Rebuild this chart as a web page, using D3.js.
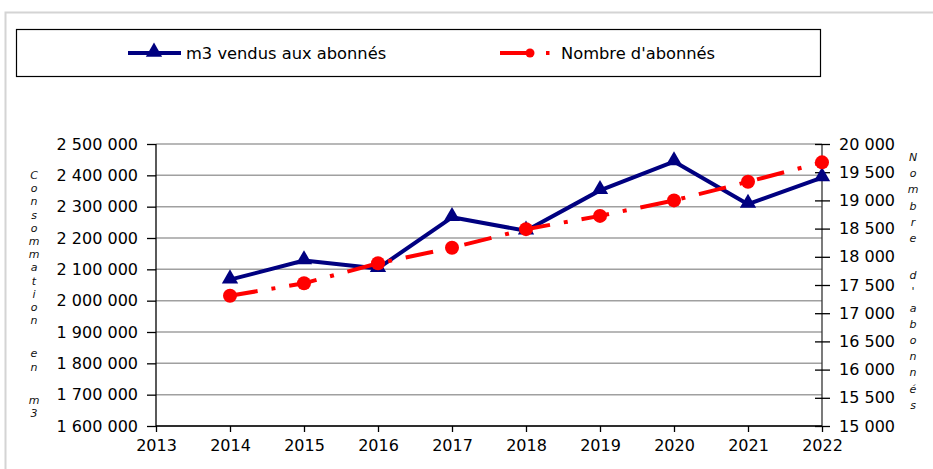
<!DOCTYPE html>
<html>
<head>
<meta charset="utf-8">
<script src="https://cdn.jsdelivr.net/npm/d3@7"></script>
<style>
  body { margin: 0; background: #fff; }
  svg { display: block; font-family: "DejaVu Sans", Verdana, sans-serif; }
</style>
</head>
<body>
<div class="canvas"></div>
<script>
// data
const years = [2014, 2015, 2016, 2017, 2018, 2019, 2020, 2021, 2022];
const m3Vendus = [2067000, 2128000, 2103000, 2266000, 2223000, 2352000, 2444000, 2308000, 2393000];
const abonnes = [17310, 17530, 17885, 18160, 18490, 18725, 19000, 19330, 19675];
const leftTicks = [1600000, 1700000, 1800000, 1900000, 2000000, 2100000, 2200000, 2300000, 2400000, 2500000];
const rightTicks = [15000, 15500, 16000, 16500, 17000, 17500, 18000, 18500, 19000, 19500, 20000];
const xTicks = [2013, 2014, 2015, 2016, 2017, 2018, 2019, 2020, 2021, 2022];

const W = 933, H = 469;
const svg = d3.select('.canvas')
    .append('svg')
    .attr('width', W)
    .attr('height', H);

// outer chart frame
svg.append('rect')
    .attr('x', 5.5).attr('y', 12.5)
    .attr('width', W).attr('height', H)
    .attr('fill', 'none')
    .attr('stroke', '#d4d4d4')
    .attr('stroke-width', 2);

const plot = {left: 156, right: 822, top: 144, bottom: 426};

const x = d3.scaleLinear().domain([2013, 2022]).range([plot.left, plot.right]);
const yL = d3.scaleLinear().domain([1600000, 2500000]).range([plot.bottom, plot.top]);
const yR = d3.scaleLinear().domain([15000, 20000]).range([plot.bottom, plot.top]);

const fmt = v => d3.format(',')(v).replace(/,/g, ' ');

// gridlines
svg.append('g')
    .selectAll('line')
    .data(leftTicks)
    .join('line')
    .attr('x1', plot.left).attr('x2', plot.right)
    .attr('y1', d => yL(d)).attr('y2', d => yL(d))
    .attr('stroke', '#a0a0a0')
    .attr('stroke-width', 1.5);

// axes
const leftAxis = svg.append('g')
    .attr('transform', `translate(${plot.left},0)`)
    .call(d3.axisLeft(yL).tickValues(leftTicks).tickFormat(fmt).tickSize(9).tickPadding(9));

const rightAxis = svg.append('g')
    .attr('transform', `translate(${plot.right},0)`)
    .call(d3.axisRight(yR).tickValues(rightTicks).tickFormat(fmt).tickSize(8).tickPadding(9));
rightAxis.selectAll('.tick line').attr('x1', -7);

const bottomAxis = svg.append('g')
    .attr('transform', `translate(0,${plot.bottom})`)
    .call(d3.axisBottom(x).tickValues(xTicks).tickFormat(d3.format('d')).tickSize(6).tickPadding(8));

[leftAxis, rightAxis, bottomAxis].forEach(g => {
    g.selectAll('text').attr('font-size', 16).attr('fill', '#000').attr('font-family', '"DejaVu Sans", Verdana, sans-serif');
    g.selectAll('line, path').attr('stroke', '#000').attr('stroke-width', 1.3);
});
leftAxis.select('.domain').attr('d', `M0,${plot.top}V${plot.bottom}`);
rightAxis.select('.domain').attr('d', `M0,${plot.top}V${plot.bottom}`);
rightAxis.select('.domain').attr('stroke', '#333');
bottomAxis.select('.domain').attr('d', `M${plot.left},0H${plot.right}`);

// stacked axis titles
const stacked = (text, cx, y0, step, spaceGap) => {
    const g = svg.append('g');
    let y = y0;
    text.split('').forEach(ch => {
        if (ch === ' ') { y += spaceGap; return; }
        g.append('text')
            .attr('x', cx).attr('y', y)
            .attr('text-anchor', 'middle')
            .attr('font-size', 11)
            .attr('font-style', 'italic')
            .attr('fill', '#111')
            .text(ch);
        y += step;
    });
};
stacked('Consommation en m3', 34, 179, 13.2, 20);
stacked("Nombre d'abonnés", 913, 161, 16.2, 21);

// series 1 : m3 vendus
const line1 = d3.line().x((d, i) => x(years[i])).y(d => yL(d));
svg.append('path')
    .datum(m3Vendus)
    .attr('d', line1)
    .attr('fill', 'none')
    .attr('stroke', '#000080')
    .attr('stroke-width', 4)
    .attr('stroke-linejoin', 'round');

const tri = d3.symbol().type(d3.symbolTriangle).size(115);
svg.append('g')
    .selectAll('path')
    .data(m3Vendus)
    .join('path')
    .attr('d', tri)
    .attr('transform', (d, i) => `translate(${x(years[i])},${yL(d) - 1})`)
    .attr('fill', '#000080');

// series 2 : nombre d'abonnés
const line2 = d3.line().x((d, i) => x(years[i])).y(d => yR(d));
svg.append('path')
    .datum(abonnes)
    .attr('d', line2)
    .attr('fill', 'none')
    .attr('stroke', '#ff0000')
    .attr('stroke-width', 4)
    .attr('stroke-dasharray', '28,14,4,14');

svg.append('g')
    .selectAll('circle')
    .data(abonnes)
    .join('circle')
    .attr('cx', (d, i) => x(years[i]))
    .attr('cy', d => yR(d))
    .attr('r', 7)
    .attr('fill', '#ff0000');

// legend
const legend = svg.append('g');
legend.append('rect')
    .attr('x', 16.5).attr('y', 29.5)
    .attr('width', 804).attr('height', 47)
    .attr('fill', '#fff')
    .attr('stroke', '#000')
    .attr('stroke-width', 1.2);

legend.append('line')
    .attr('x1', 128).attr('x2', 181).attr('y1', 53).attr('y2', 53)
    .attr('stroke', '#000080').attr('stroke-width', 4);
legend.append('path')
    .attr('d', tri)
    .attr('transform', 'translate(154,52)')
    .attr('fill', '#000080');
legend.append('text')
    .attr('x', 186).attr('y', 59)
    .attr('font-size', 16.3)
    .text('m3 vendus aux abonnés');

legend.append('line')
    .attr('x1', 500).attr('x2', 530).attr('y1', 53).attr('y2', 53)
    .attr('stroke', '#ff0000').attr('stroke-width', 4);
legend.append('circle')
    .attr('cx', 530).attr('cy', 53).attr('r', 4.5)
    .attr('fill', '#ff0000');
legend.append('rect')
    .attr('x', 546).attr('y', 51).attr('width', 3.5).attr('height', 4)
    .attr('fill', '#ff0000');
legend.append('text')
    .attr('x', 561).attr('y', 59)
    .attr('font-size', 16.3)
    .text("Nombre d'abonnés");
</script>
</body>
</html>
